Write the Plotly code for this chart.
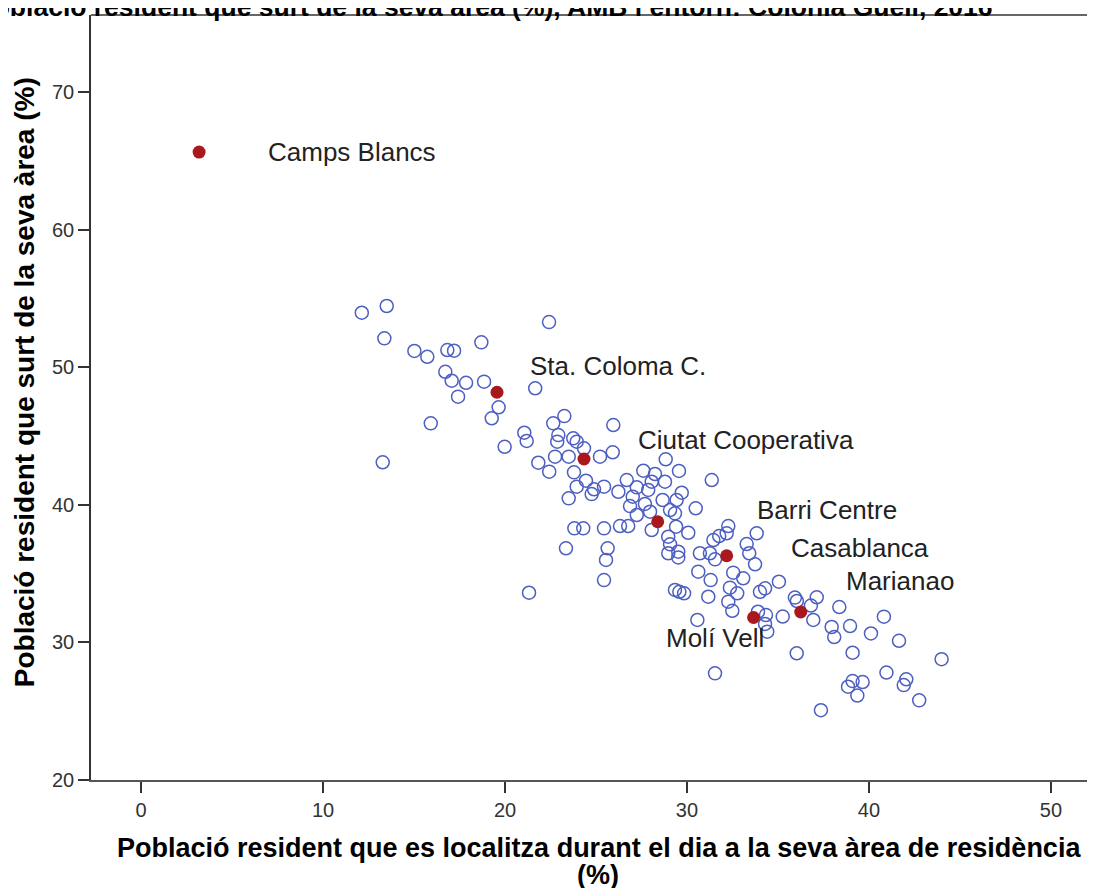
import plotly.graph_objects as go

# barris de l'AMB (cercles buits)
barri_x = [12.13, 13.50, 13.37, 22.42, 15.02, 15.73, 16.83, 17.20, 18.70, 16.72,
           17.07, 17.86, 18.85, 17.42, 21.66, 19.65, 19.27, 15.92, 13.28, 19.98,
           21.06, 21.19, 22.65, 23.26, 22.93, 22.87, 23.75, 23.94, 24.34, 22.75,
           23.50, 21.83, 22.43, 23.79, 24.45, 23.94, 24.89, 24.76, 23.50, 25.22,
           25.95, 25.92, 25.44, 26.23, 26.69, 27.24, 27.02, 27.60, 28.24, 28.83,
           29.56, 28.79, 28.06, 27.87, 26.87, 27.69, 27.24, 27.97, 28.66, 29.43,
           29.71, 30.48, 31.36, 29.07, 29.34, 23.81, 24.30, 25.44, 26.32, 26.77,
           28.06, 29.40, 30.07, 28.97, 29.07, 28.97, 29.52, 29.52, 23.35, 25.64,
           25.55, 25.44, 21.32, 29.34, 29.58, 29.84, 31.17, 30.57, 32.27, 32.18,
           31.77, 31.45, 30.71, 31.26, 31.54, 30.62, 31.30, 32.54, 33.09, 32.36,
           32.76, 32.27, 32.49, 33.83, 33.28, 33.42, 33.74, 34.01, 34.29, 35.05,
           34.29, 34.41, 31.54, 33.90, 34.34, 35.26, 35.93, 36.04, 37.13, 36.81,
           36.94, 36.03, 38.37, 37.95, 38.09, 38.96, 39.10, 40.11, 40.82, 41.65,
           43.99, 40.96, 38.85, 39.10, 39.65, 39.36, 37.36, 42.05, 41.91, 42.76]
barri_y = [53.96, 54.45, 52.10, 53.28, 51.18, 50.76, 51.25, 51.20, 51.81, 49.67,
           49.02, 48.87, 48.95, 47.86, 48.47, 47.09, 46.29, 45.92, 43.09, 44.22,
           45.24, 44.64, 45.92, 46.45, 45.07, 44.59, 44.83, 44.59, 44.11, 43.50,
           43.50, 43.06, 42.41, 42.36, 41.75, 41.32, 41.13, 40.78, 40.47, 43.50,
           45.80, 43.82, 41.32, 40.95, 41.80, 41.27, 40.59, 42.48, 42.24, 43.31,
           42.46, 41.68, 41.68, 41.08, 39.91, 40.06, 39.26, 39.50, 40.35, 40.35,
           40.88, 39.75, 41.80, 39.62, 39.38, 38.29, 38.29, 38.29, 38.46, 38.46,
           38.17, 38.41, 37.97, 37.68, 37.13, 36.48, 36.59, 36.18, 36.84, 36.84,
           35.99, 34.53, 33.61, 33.81, 33.68, 33.57, 33.32, 31.63, 38.46, 37.93,
           37.73, 37.44, 36.48, 36.48, 36.04, 35.14, 34.53, 35.07, 34.66, 33.98,
           33.57, 32.96, 32.30, 37.93, 37.15, 36.48, 35.68, 33.68, 33.93, 34.41,
           31.34, 30.78, 27.75, 32.23, 31.99, 31.88, 33.26, 33.01, 33.28, 32.68,
           31.63, 29.21, 32.57, 31.12, 30.39, 31.19, 29.25, 30.65, 31.87, 30.12,
           28.78, 27.81, 26.78, 27.19, 27.12, 26.14, 25.07, 27.32, 26.90, 25.79]

# barris destacats (Santa Coloma de Cervelló / Colònia Güell)
destacats = ["Camps Blancs", "Sta. Coloma C.", "Ciutat Cooperativa", "Barri Centre",
             "Casablanca", "Molí Vell", "Marianao"]
dest_x = [3.19, 19.56, 24.34, 28.39, 32.18, 33.66, 36.25]
dest_y = [65.64, 48.18, 43.33, 38.77, 36.30, 31.81, 32.21]

# on va el text de cada etiqueta
etiqueta_x = [6.87, 21.26, 27.20, 33.74, 35.60, 28.74, 38.63]
etiqueta_y = [65.64, 50.09, 44.71, 39.62, 36.86, 30.32, 34.46]

fig = go.Figure()
fig.add_trace(go.Scatter(
    x=barri_x, y=barri_y, mode="markers",
    marker=dict(symbol="circle-open", size=13, color="#4d5fc1", line=dict(width=1.5)),
    hoverinfo="x+y", showlegend=False))
fig.add_trace(go.Scatter(
    x=dest_x, y=dest_y, mode="markers", text=destacats,
    marker=dict(symbol="circle", size=13, color="#a8181c"),
    hoverinfo="text+x+y", showlegend=False))

for nom, lx, ly in zip(destacats, etiqueta_x, etiqueta_y):
    fig.add_annotation(x=lx, y=ly, text=nom, showarrow=False, xanchor="left", yanchor="middle",
                       font=dict(family="Liberation Sans, Arial", size=26, color="#222"))

titol_font = dict(family="Liberation Sans, Arial", size=26.5, color="#000")
eix_font = dict(family="Liberation Sans, Arial", size=27, color="#000")

# titol tallat per dalt, com a l'original
fig.add_annotation(xref="paper", yref="paper", x=0.3924, y=1.0104, xanchor="center", yanchor="middle",
                   text="<b>Població resident que surt de la seva àrea (%), AMB i entorn: Colonia Güell, 2016</b>",
                   showarrow=False, font=titol_font)
fig.add_annotation(xref="paper", yref="paper", x=0.506, y=-0.0889, xanchor="center", yanchor="middle",
                   text="<b>Població resident que es localitza durant el dia a la seva àrea de residència</b>",
                   showarrow=False, font=eix_font)
fig.add_annotation(xref="paper", yref="paper", x=0.505, y=-0.124, xanchor="center", yanchor="middle",
                   text="<b>(%)</b>", showarrow=False, font=eix_font)
fig.add_annotation(xref="paper", yref="paper", x=-0.066, y=0.5196, xanchor="center", yanchor="middle",
                   text="<b>Població resident que surt de la seva àrea (%)</b>", textangle=-90,
                   showarrow=False, font=dict(family="Liberation Sans, Arial", size=28, color="#000"))

# linia de dalt del marc
fig.add_shape(type="line", xref="paper", yref="paper", x0=0, x1=1, y0=1, y1=1,
              line=dict(color="#666", width=2))

# la pagina ja te 8 px de marge al body: es descompten aqui
fig.update_layout(
    width=1087, height=880,
    margin=dict(l=83, r=0, t=7, b=108),
    paper_bgcolor="white", plot_bgcolor="white",
    xaxis=dict(range=[-2.75, 52.42], tickvals=[0, 10, 20, 30, 40, 50], showgrid=False, zeroline=False,
               showline=True, linecolor="#555", linewidth=2, ticks="outside", ticklen=11,
               tickcolor="#333", tickwidth=1.5,
               tickfont=dict(family="Liberation Sans, Arial", size=20, color="#333")),
    yaxis=dict(range=[20, 75.6], tickvals=[20, 30, 40, 50, 60, 70], showgrid=False, zeroline=False,
               showline=True, linecolor="#333", linewidth=1.5, ticks="outside", ticklen=11,
               tickcolor="#333", tickwidth=1.5,
               tickfont=dict(family="Liberation Sans, Arial", size=20, color="#333")),
)

fig.write_html("out.html")
